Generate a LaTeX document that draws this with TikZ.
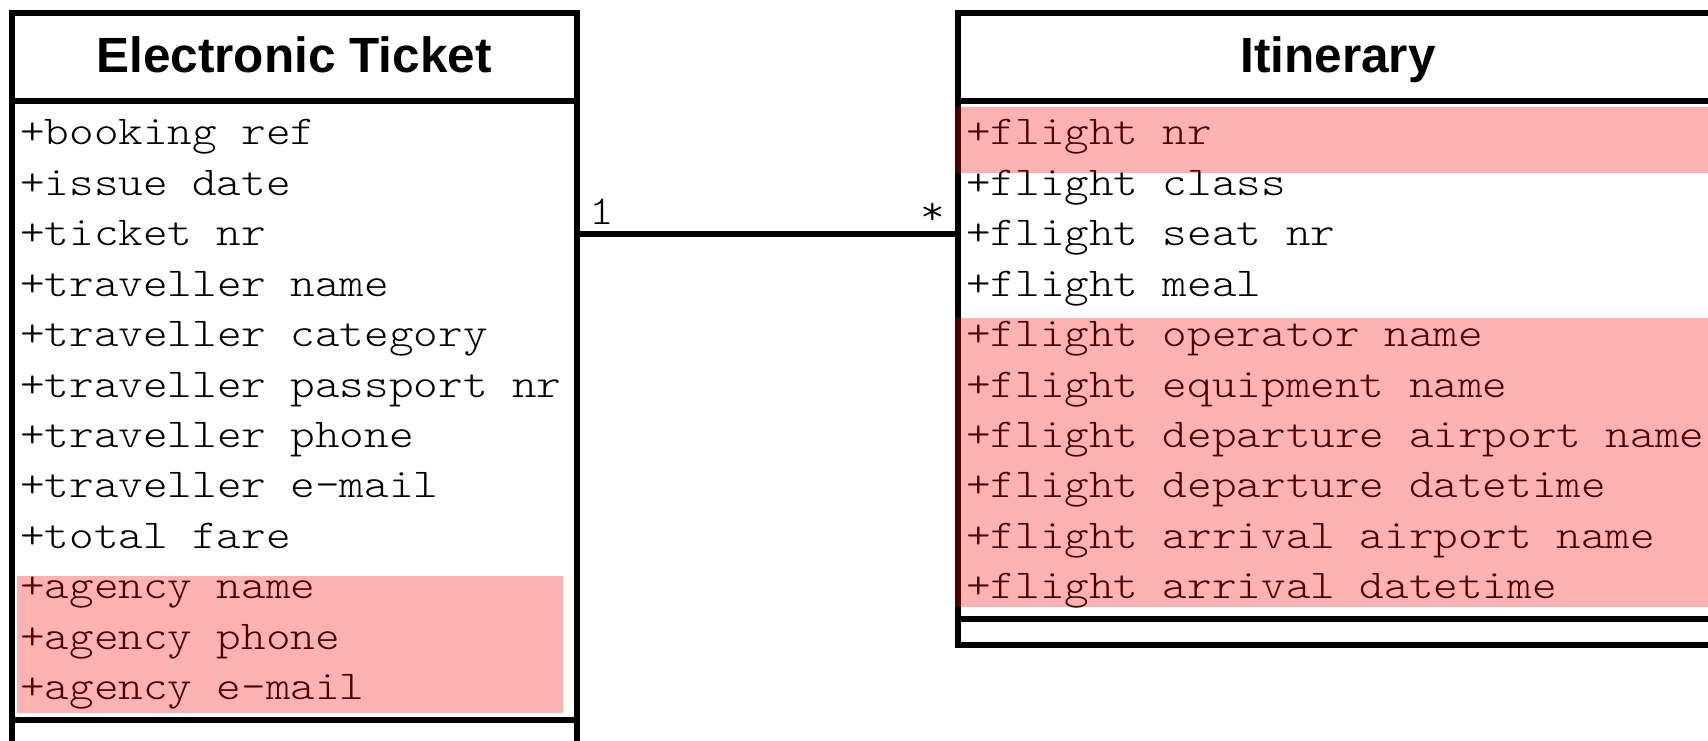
\documentclass[tikz,border=0pt]{standalone}
\usepackage{fontspec}
\newfontfamily\titlefont{Liberation Sans}
\newfontfamily\attrfont{lmmonolt10-regular.otf}[FakeStretch=1.143]
\begin{document}
\begin{tikzpicture}[x=1pt,y=-1pt,
  classbox/.style={draw=black, line width=6pt, rectangle, inner sep=0pt,
    outer sep=0pt, anchor=north west},
  classname/.style={font=\titlefont\bfseries\fontsize{49.5}{50}\selectfont,
    anchor=base, inner sep=0pt},
  attr/.style={font=\attrfont\fontsize{41}{50}\selectfont, anchor=base west,
    inner sep=0pt},
  divider/.style={line width=6pt},
  assoc/.style={line width=6pt},
  highlight/.style={fill=red, fill opacity=0.3}]
\useasboundingbox (0,0) rectangle (1708,741);
\begin{scope}
\clip (0,0) rectangle (1708,741);

% class boxes
\node[classbox, minimum width=565pt, minimum height=780pt] (ticket) at (12,13) {};
\node[classbox, minimum width=761pt, minimum height=631.5pt] (itin) at (958,13) {};

% compartment rules
\coordinate (namerule) at (0,101.5);
\coordinate (ticketattrrule) at (0,720);
\coordinate (itinattrrule) at (0,619);
\draw[divider] (ticket.west |- namerule) -- (ticket.east |- namerule);
\draw[divider] (ticket.west |- ticketattrrule) -- (ticket.east |- ticketattrrule);
\draw[divider] (itin.west |- namerule) -- (itin.east |- namerule);
\draw[divider] (itin.west |- itinattrrule) -- (itin.east |- itinattrrule);

% class names
\node[classname] (ticketname) at (294,73) {Electronic Ticket};
\node[classname] (itinname) at (1338,73) {Itinerary};

% attributes
\foreach \txt [count=\i from 0] in {+booking ref,+issue date,+ticket nr,
    +traveller name,+traveller category,+traveller passport nr,
    +traveller phone,+traveller e-mail,+total fare,+agency name,
    +agency phone,+agency e-mail}
  \node[attr] (ta\i) at (20,{145+50.4*\i}) {\txt};
\foreach \txt [count=\i from 0] in {+flight nr,+flight class,+flight seat nr,
    +flight meal,+flight operator name,+flight equipment name,
    +flight departure airport name,+flight departure datetime,
    +flight arrival airport name,+flight arrival datetime}
  \node[attr] (ia\i) at (966,{145+50.4*\i}) {\txt};

% association with multiplicities
\coordinate (assocrow) at (0,234);
\draw[assoc] (ticket.east |- assocrow) -- (itin.west |- assocrow);
\node[attr] (multone) at (589,224) {1};
\node[attr] (multmany) at (920,224) {*};

% highlighted attribute groups
\fill[highlight] (17,576) rectangle (563,713);
\fill[highlight] (955,107) rectangle (1720,173);
\fill[highlight] (955,318) rectangle (1720,607);
\end{scope}
\end{tikzpicture}
\end{document}
